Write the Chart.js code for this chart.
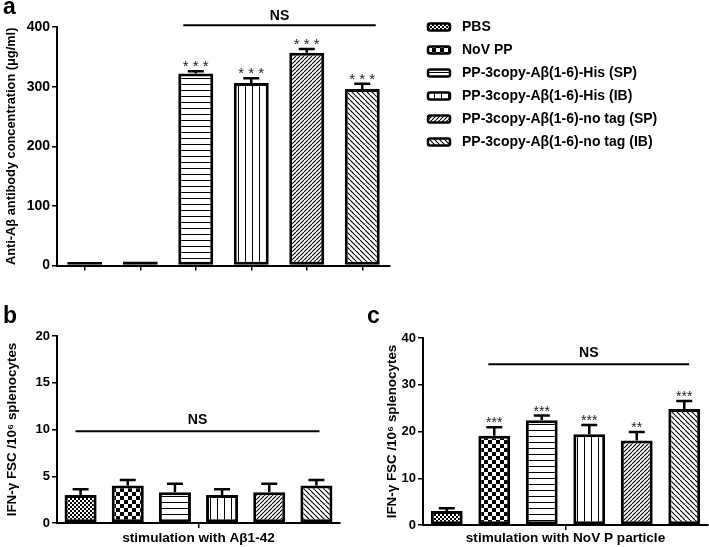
<!DOCTYPE html>
<html><head><meta charset="utf-8">
<script src="https://cdn.jsdelivr.net/npm/chart.js@4/dist/chart.umd.min.js"></script>
<style>
body{margin:0;background:#fff;width:709px;height:547px;position:relative;overflow:hidden}
canvas{position:absolute}
</style></head><body>
<canvas id="ca" width="709" height="276" style="left:0;top:0"></canvas>
<canvas id="cb" width="360" height="267" style="left:0;top:280px"></canvas>
<canvas id="cc" width="349" height="267" style="left:360px;top:280px"></canvas>
<script>
// ---------- data ----------
const groups = ['PBS', 'NoV PP', 'PP-3copy-A\u03B2(1-6)-His (SP)', 'PP-3copy-A\u03B2(1-6)-His (IB)', 'PP-3copy-A\u03B2(1-6)-no tag (SP)', 'PP-3copy-A\u03B2(1-6)-no tag (IB)'];
const antibodyMean = [6, 7, 322, 306, 357, 296];
const antibodyErr = [0, 0, 4, 8, 6, 9];
const antibodyStars = ['', '', '* * *', '* * *', '* * *', '* * *'];
const antibodyTicks = [0, 100, 200, 300, 400];
const ab42Mean = [3.0, 4.0, 3.3, 3.0, 3.3, 4.0];
const ab42Err = [0.6, 0.6, 0.9, 0.6, 0.9, 0.6];
const ab42Ticks = [0, 5, 10, 15, 20];
const novpMean = [3.0, 19.1, 22.4, 19.4, 18.1, 24.8];
const novpErr = [0.6, 1.8, 1.0, 2.0, 1.8, 1.7];
const novpStars = ['', '***', '***', '***', '**', '***'];
const novpTicks = [0, 10, 20, 30, 40];
const nsA = {from: 2, to: 5, value: 403};
const nsB = {from: 0, to: 5, value: 9.8};
const nsC = {from: 1, to: 5, value: 34.4};

const FONT = "'Liberation Sans', Arial, Helvetica, sans-serif";
Chart.defaults.font.family = FONT;
Chart.defaults.color = '#000';

// ---------- patterns ----------
function makePattern(kind) {
  const c = document.createElement('canvas');
  const x = c.getContext('2d');
  let s = 4;
  if (kind === 'fine') s = 4;
  if (kind === 'check') s = 8;
  if (kind === 'h') s = 6;
  if (kind === 'v') s = 7;
  if (kind === 'd1') s = 4;
  if (kind === 'd2') s = 5;
  c.width = s; c.height = s;
  x.fillStyle = '#fff'; x.fillRect(0, 0, s, s);
  x.fillStyle = '#000'; x.strokeStyle = '#000';
  if (kind === 'fine') { x.fillRect(0, 0, 2, 2); x.fillRect(2, 2, 2, 2); }
  if (kind === 'check') { x.fillRect(0, 0, 4, 4); x.fillRect(4, 4, 4, 4); }
  if (kind === 'h') { x.fillRect(0, 0, s, 1); }
  if (kind === 'v') { x.fillRect(0, 0, 1, s); }
  if (kind === 'd1' || kind === 'd2') {
    x.lineWidth = 1.1;
    x.beginPath();
    for (const o of [-s, 0, s]) {
      if (kind === 'd1') { x.moveTo(o, s); x.lineTo(o + s, 0); }
      else { x.moveTo(o, 0); x.lineTo(o + s, s); }
    }
    x.stroke();
  }
  return c;
}
const patternKinds = ['fine', 'check', 'h', 'v', 'd1', 'd2'];
function patternsFor(ctx) { return patternKinds.map(k => ctx.createPattern(makePattern(k), 'repeat')); }

// ---------- annotation plugin ----------
const annot = {
  id: 'annot',
  afterDraw(chart, args, o) {
    const ctx = chart.ctx, ys = chart.scales.y;
    const els = chart.data.datasets.map((d, i) => chart.getDatasetMeta(i).data[o.single ? i : 0]);
    const vals = chart.data.datasets.map((d, i) => d.data[o.single ? i : 0]);
    ctx.save();
    ctx.strokeStyle = '#000'; ctx.fillStyle = '#000';
    o.err.forEach((e, i) => {
      const el = els[i];
      const top = ys.getPixelForValue(vals[i] + e);
      if (e > 0) {
        ctx.lineWidth = 2.5;
        ctx.beginPath();
        ctx.moveTo(el.x, el.y); ctx.lineTo(el.x, top);
        ctx.moveTo(el.x - o.cap, top); ctx.lineTo(el.x + o.cap, top);
        ctx.stroke();
      }
      if (o.stars && o.stars[i]) {
        ctx.font = o.starFont; ctx.fillStyle = '#222';
        ctx.textAlign = 'center'; ctx.textBaseline = 'alphabetic';
        ctx.fillText(o.stars[i], el.x, top - o.starGap);
        ctx.fillStyle = '#000';
      }
    });
    // NS line
    const ns = o.ns;
    const a = els[ns.from], b = els[ns.to];
    const l = a.x - a.width / 2 + o.nsInset[0];
    const r = b.x + b.width / 2 - o.nsInset[1];
    const y = ys.getPixelForValue(ns.value);
    ctx.lineWidth = 2;
    ctx.beginPath(); ctx.moveTo(l, y); ctx.lineTo(r, y); ctx.stroke();
    ctx.font = 'bold 14px ' + FONT; ctx.textAlign = 'center'; ctx.textBaseline = 'alphabetic';
    ctx.fillText('NS', (l + r) / 2, y - o.nsGap);
    // panel letter
    ctx.font = 'bold 23px ' + FONT; ctx.textAlign = 'left';
    ctx.fillText(o.letter[0], o.letter[1], o.letter[2]);
    // legend
    if (o.legend) {
      ctx.font = 'bold 14px ' + FONT; ctx.textBaseline = 'middle';
      chart.data.datasets.forEach((d, i) => {
        const yy = 27 + i * 23;
        ctx.beginPath();
        ctx.roundRect(428, yy - 3.5, 22, 7, 2);
        ctx.fillStyle = d.backgroundColor; ctx.fill();
        ctx.lineWidth = 2.5; ctx.strokeStyle = '#000'; ctx.stroke();
        ctx.fillStyle = '#000';
        ctx.fillText(d.label, 462, yy + 0.5);
      });
    }
    ctx.restore();
  }
};

function yAxis(ticks, width, titleText, fontSize, titleSize) {
  return {
    min: ticks[0], max: ticks[ticks.length - 1],
    afterBuildTicks: s => { s.ticks = ticks.map(v => ({value: v})); },
    afterFit: s => { s.width = width; },
    grid: {drawOnChartArea: false, drawTicks: true, tickLength: 5, color: '#000', lineWidth: 1.5},
    border: {display: true, color: '#000', width: 2},
    ticks: {color: '#000', font: {size: fontSize, weight: 'bold'}, padding: 2},
    title: {display: true, text: titleText, color: '#000', font: {size: titleSize, weight: 'bold'}, padding: {top: 4, bottom: 4}}
  };
}
function xAxis(height, titleText) {
  const ax = {
    afterFit: s => { s.height = height; },
    grid: {drawOnChartArea: false, drawTicks: true, tickLength: 5, color: '#000', lineWidth: 1.5, offset: false},
    border: {display: true, color: '#000', width: 2},
    ticks: {display: false}
  };
  if (titleText) ax.title = {display: true, text: titleText, color: '#000', font: {size: 13.6, weight: 'bold'}, padding: {top: 0, bottom: 1}};
  return ax;
}

// ---------- panel a ----------
const ctxA = document.getElementById('ca').getContext('2d');
const patA = patternsFor(ctxA);
new Chart(ctxA, {
  type: 'bar',
  data: {
    labels: groups,
    datasets: groups.map((g, i) => ({
      label: g,
      data: antibodyMean.map((v, j) => j === i ? v : null),
      backgroundColor: patA[i], borderColor: '#000', borderWidth: 3, borderSkipped: false
    }))
  },
  options: {
    responsive: false, animation: false,
    layout: {padding: {left: 0, top: 27, right: 319, bottom: 0}},
    datasets: {bar: {grouped: false, barPercentage: 0.63, categoryPercentage: 1}},
    plugins: {legend: {display: false}, tooltip: {enabled: false},
      annot: {single: true, err: antibodyErr, stars: antibodyStars, starFont: '15px ' + FONT, starGap: 0, cap: 8,
        ns: nsA, nsInset: [5, 4], nsGap: 5, letter: ['a', 3, 14], legend: true}},
    scales: {
      x: xAxis(10, null),
      y: yAxis(antibodyTicks, 57, 'Anti-A\u03B2 antibody concentration (\u03BCg/ml)', 14, 12.8)
    }
  },
  plugins: [annot]
});

// ---------- panel b ----------
const ctxB = document.getElementById('cb').getContext('2d');
const patB = patternsFor(ctxB);
new Chart(ctxB, {
  type: 'bar',
  data: {
    labels: [''],
    datasets: groups.map((g, i) => ({
      label: g, data: [ab42Mean[i]],
      backgroundColor: patB[i], borderColor: '#000', borderWidth: 3, borderSkipped: false
    }))
  },
  options: {
    responsive: false, animation: false,
    layout: {padding: {left: 0, top: 56, right: 20, bottom: 0}},
    datasets: {bar: {barPercentage: 0.68, categoryPercentage: 1}},
    plugins: {legend: {display: false}, tooltip: {enabled: false},
      annot: {single: false, err: ab42Err, stars: null, cap: 8,
        ns: nsB, nsInset: [11, 13], nsGap: 7, letter: ['b', 3, 43], legend: false}},
    scales: {
      x: xAxis(24, 'stimulation with A\u03B21-42'),
      y: yAxis(ab42Ticks, 57, 'IFN-\u03B3 FSC /10\u2076 splenocytes', 13, 13.4)
    }
  },
  plugins: [annot]
});

// ---------- panel c ----------
const ctxC = document.getElementById('cc').getContext('2d');
const patC = patternsFor(ctxC);
new Chart(ctxC, {
  type: 'bar',
  data: {
    labels: [''],
    datasets: groups.map((g, i) => ({
      label: g, data: [novpMean[i]],
      backgroundColor: patC[i], borderColor: '#000', borderWidth: 3, borderSkipped: false
    }))
  },
  options: {
    responsive: false, animation: false,
    layout: {padding: {left: 20, top: 58, right: 1, bottom: 0}},
    datasets: {bar: {barPercentage: 0.67, categoryPercentage: 1}},
    plugins: {legend: {display: false}, tooltip: {enabled: false},
      annot: {single: false, err: novpErr, stars: novpStars, starFont: '14px ' + FONT, starGap: 0, cap: 8,
        ns: nsC, nsInset: [10, 11], nsGap: 7, letter: ['c', 7, 43], legend: false}},
    scales: {
      x: xAxis(22, 'stimulation with NoV P particle'),
      y: yAxis(novpTicks, 43, 'IFN-\u03B3 FSC /10\u2076 splenocytes', 13, 13.4)
    }
  },
  plugins: [annot]
});
</script>
</body></html>
